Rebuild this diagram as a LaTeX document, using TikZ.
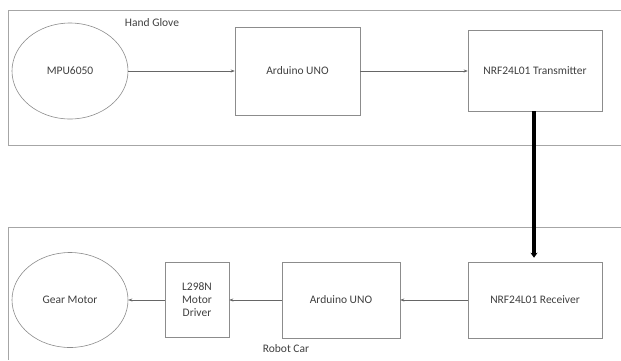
\documentclass[tikz,border=0pt]{standalone}
\usepackage{fontspec}
\setmainfont{Carlito}
\usetikzlibrary{shapes.geometric,arrows.meta}
\begin{document}
\begin{tikzpicture}[x=1pt,y=-1pt,
  every node/.style={font=\fontsize{11.5}{13}\selectfont, text=black!75},
  blk/.style={draw=black!45, line width=0.6pt, rectangle, inner sep=0pt},
  oval/.style={draw=black!45, line width=0.6pt, ellipse, inner sep=0pt},
  frame/.style={draw=black!35, line width=0.8pt},
  link/.style={draw=black!60, line width=0.5pt, -{Stealth[length=4pt,width=3pt]}},
  radio/.style={draw=black, line width=3.5pt, -{Stealth[length=5pt,width=7pt]}}]
\useasboundingbox (0,0) rectangle (621,360);
\fill[white] (0,0) rectangle (621,360);
% containers
\draw[frame] (621,10) -- (8,10) -- (8,145) -- (621,145);
\draw[frame] (621,227) -- (8,227) -- (8,360);
\node (hg) at (152,23) {Hand Glove};
\node (rc) at (286,349) {Robot Car};
% top row
\node[oval, minimum width=116, minimum height=96] (mpu) at (70,71) {MPU6050};
\node[blk, minimum width=125, minimum height=88] (ard1) at (297.5,71) {Arduino UNO};
\node[blk, minimum width=134, minimum height=81] (tx) at (535,70.5) {NRF24L01 Transmitter};
% bottom row
\node[oval, minimum width=116, minimum height=95] (gm) at (70,300) {Gear Motor};
\node[blk, minimum width=64, minimum height=75, align=center] (drv) at (197,300) {L298N\\Motor\\Driver};
\node[blk, minimum width=118, minimum height=76] (ard2) at (341,300) {Arduino UNO};
\node[blk, minimum width=134, minimum height=76] (rx) at (535,300) {NRF24L01 Receiver};
% connectors
\draw[link] (mpu.east |- 0,71) -- (ard1.west |- 0,71);
\draw[link] (ard1.east |- 0,71) -- (tx.west |- 0,71);
\draw[radio] (tx.south -| 534,0) -- ([yshift=4pt]rx.north -| 534,0);
\draw[link] (rx.west) -- (ard2.east);
\draw[link] (ard2.west) -- (drv.east);
\draw[link] (drv.west) -- (gm.east);
\end{tikzpicture}
\end{document}
